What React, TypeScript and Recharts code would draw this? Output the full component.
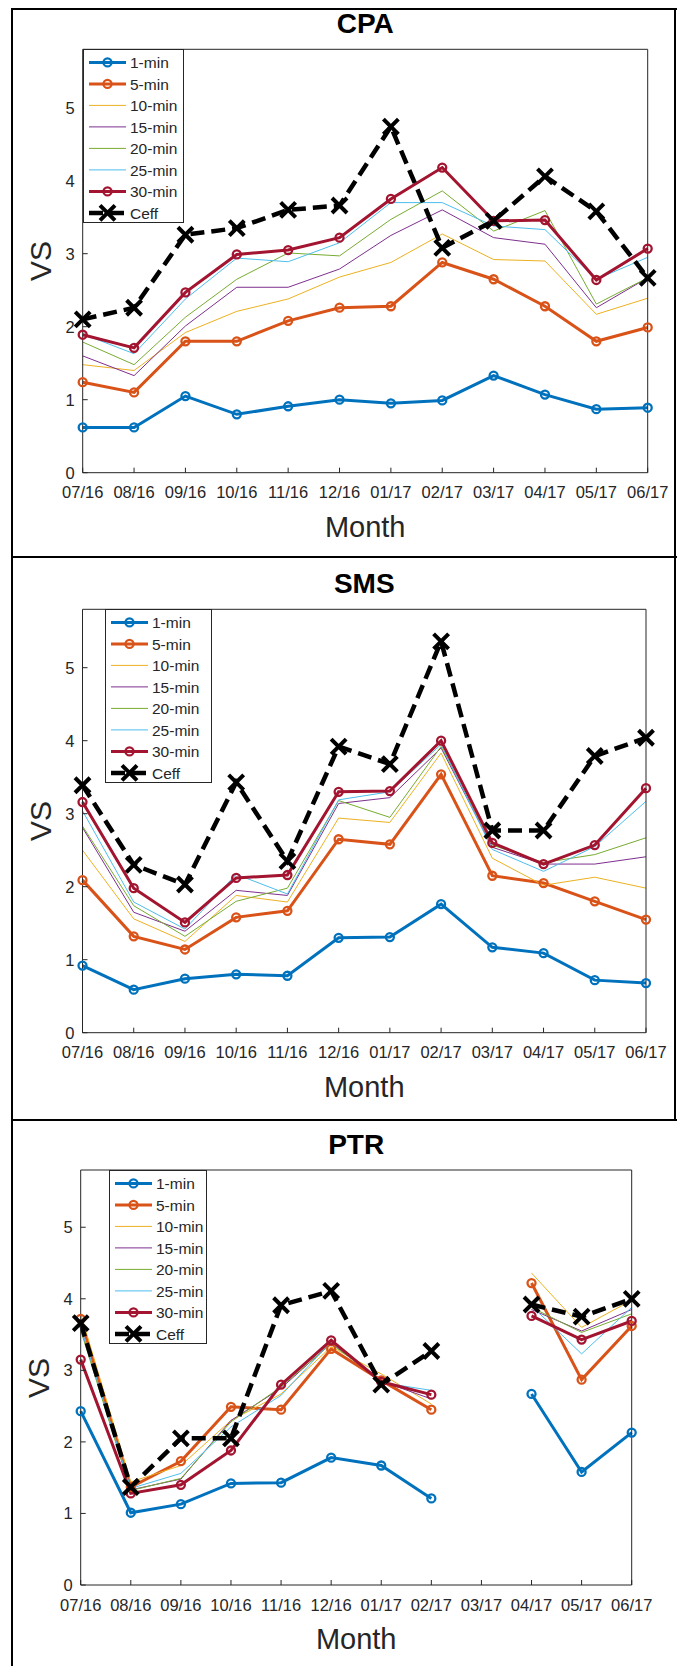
import React from "react";
import { LineChart, Line, XAxis, YAxis, Legend } from "recharts";

const MONTHS = ["07/16", "08/16", "09/16", "10/16", "11/16", "12/16", "01/17", "02/17", "03/17", "04/17", "05/17", "06/17"];
const Y_TICKS = [0, 1, 2, 3, 4, 5];

// CPA
const CPA_1 = [0.62, 0.62, 1.05, 0.8, 0.91, 1.0, 0.95, 0.99, 1.33, 1.07, 0.87, 0.89];
const CPA_5 = [1.24, 1.1, 1.8, 1.8, 2.08, 2.26, 2.28, 2.88, 2.65, 2.28, 1.8, 1.99];
const CPA_10 = [1.48, 1.4, 1.92, 2.21, 2.38, 2.68, 2.88, 3.27, 2.92, 2.9, 2.17, 2.39];
const CPA_15 = [1.6, 1.33, 2.01, 2.54, 2.54, 2.79, 3.25, 3.6, 3.22, 3.13, 2.26, 2.67];
const CPA_20 = [1.79, 1.48, 2.13, 2.65, 3.01, 2.97, 3.47, 3.86, 3.31, 3.59, 2.31, 2.67];
const CPA_25 = [1.9, 1.63, 2.38, 2.94, 2.89, 3.15, 3.7, 3.7, 3.38, 3.33, 2.65, 2.95];
const CPA_30 = [1.89, 1.71, 2.47, 2.99, 3.05, 3.22, 3.75, 4.18, 3.45, 3.46, 2.64, 3.07];
const CPA_CEFF = [2.1, 2.26, 3.26, 3.35, 3.6, 3.66, 4.74, 3.08, 3.45, 4.06, 3.58, 2.67];

// SMS
const SMS_1 = [0.92, 0.59, 0.74, 0.8, 0.78, 1.3, 1.31, 1.76, 1.17, 1.09, 0.72, 0.68];
const SMS_5 = [2.09, 1.32, 1.14, 1.58, 1.67, 2.65, 2.58, 3.54, 2.15, 2.05, 1.8, 1.55];
const SMS_10 = [2.5, 1.56, 1.25, 1.88, 1.79, 2.94, 2.88, 3.83, 2.39, 2.02, 2.13, 1.98];
const SMS_15 = [2.81, 1.65, 1.39, 1.95, 1.88, 3.14, 3.22, 3.9, 2.54, 2.31, 2.31, 2.41];
const SMS_20 = [2.83, 1.74, 1.32, 1.8, 1.98, 3.18, 2.95, 3.92, 2.57, 2.33, 2.44, 2.67];
const SMS_25 = [3.04, 1.79, 1.42, 2.17, 1.9, 3.19, 3.3, 3.95, 2.51, 2.21, 2.55, 3.17];
const SMS_30 = [3.16, 1.98, 1.51, 2.12, 2.16, 3.3, 3.31, 4.0, 2.6, 2.31, 2.57, 3.35];
const SMS_CEFF = [3.39, 2.3, 2.03, 3.43, 2.35, 3.92, 3.68, 5.36, 2.77, 2.77, 3.79, 4.04];

// PTR (no data for 03/17)
const PTR_1 = [2.43, 1.01, 1.13, 1.42, 1.43, 1.78, 1.67, 1.21, null, 2.67, 1.58, 2.13];
const PTR_5 = [3.72, 1.37, 1.73, 2.49, 2.45, 3.3, 2.86, 2.45, null, 4.22, 2.87, 3.62];
const PTR_10 = [3.79, 1.44, 1.67, 2.3, 2.67, 3.33, 2.95, 2.53, null, 4.36, 3.6, 3.98];
const PTR_15 = [3.6, 1.33, 1.48, 2.3, 2.75, 3.38, 2.85, 2.6, null, 3.85, 3.55, 3.85];
const PTR_20 = [3.56, 1.32, 1.49, 2.28, 2.77, 3.37, 2.85, 2.65, null, 3.88, 3.53, 3.79];
const PTR_25 = [3.6, 1.35, 1.56, 2.21, 2.65, 3.4, 2.83, 2.72, null, 3.9, 3.23, 3.88];
const PTR_30 = [3.15, 1.28, 1.4, 1.88, 2.8, 3.42, 2.84, 2.66, null, 3.76, 3.43, 3.69];
const PTR_CEFF = [3.66, 1.37, 2.05, 2.05, 3.91, 4.11, 2.8, 3.27, null, 3.92, 3.75, 4.0];

const SERIES = [
  { key: "m1", name: "1-min", color: "#0072BD", width: 3, marker: "o" },
  { key: "m5", name: "5-min", color: "#D95319", width: 3, marker: "o" },
  { key: "m10", name: "10-min", color: "#EDB120", width: 1, marker: "" },
  { key: "m15", name: "15-min", color: "#7E2F8E", width: 1, marker: "" },
  { key: "m20", name: "20-min", color: "#77AC30", width: 1, marker: "" },
  { key: "m25", name: "25-min", color: "#4DBEEE", width: 1, marker: "" },
  { key: "m30", name: "30-min", color: "#A2142F", width: 3, marker: "o" },
  { key: "ceff", name: "Ceff", color: "#000000", width: 4.5, marker: "x", dash: "14 7" },
];

const table = (cols: (number | null)[][]) =>
  MONTHS.map((m, i) => {
    const row: any = { m };
    SERIES.forEach((s, j) => (row[s.key] = cols[j][i]));
    return row;
  });

const PANELS = [
  {
    title: "CPA", top: 0, height: 556, left: 82.7, right: 647.7, plotTop: 49.3, zero: 472.7,
    legendLeft: 82.7, legendW: 101, vsX: 41,
    data: table([CPA_1, CPA_5, CPA_10, CPA_15, CPA_20, CPA_25, CPA_30, CPA_CEFF]),
  },
  {
    title: "SMS", top: 557, height: 560, left: 82.5, right: 646, plotTop: 52.3, zero: 475.7,
    legendLeft: 105, legendW: 107, vsX: 41,
    data: table([SMS_1, SMS_5, SMS_10, SMS_15, SMS_20, SMS_25, SMS_30, SMS_CEFF]),
  },
  {
    title: "PTR", top: 1120, height: 546, left: 80.7, right: 631.7, plotTop: 50, zero: 465,
    legendLeft: 109.3, legendW: 98, vsX: 39,
    data: table([PTR_1, PTR_5, PTR_10, PTR_15, PTR_20, PTR_25, PTR_30, PTR_CEFF]),
  },
];

const FONT = '"Liberation Sans", Arial, Helvetica, sans-serif';
const AX = "#262626";

const ring = (color: string) => (p: any) =>
  p.cx == null || p.cy == null ? (
    <g key={p.index} />
  ) : (
    <circle key={p.index} cx={p.cx} cy={p.cy} r={4} fill="none" stroke={color} strokeWidth={2.3} />
  );

const cross = (p: any) => {
  if (p.cx == null || p.cy == null) return <g key={p.index} />;
  const { cx, cy } = p;
  const d = 7.5;
  return (
    <path
      key={p.index}
      d={`M${cx - d},${cy - d}L${cx + d},${cy + d}M${cx - d},${cy + d}L${cx + d},${cy - d}`}
      stroke="#000"
      strokeWidth={4}
      fill="none"
    />
  );
};

function LegendBox({ width }: { width: number }) {
  const rowH = 21.5;
  const h = 174;
  return (
    <div style={{ width, height: h, border: `1px solid ${AX}`, background: "#fff", boxSizing: "border-box" }}>
      <svg width={width - 2} height={h - 2} style={{ display: "block" }}>
        {SERIES.map((s, i) => {
          const y = 12.4 + i * rowH;
          return (
            <g key={s.key}>
              <line x1={5} y1={y} x2={42} y2={y} stroke={s.color} strokeWidth={s.width} strokeDasharray={s.dash} />
              {s.marker === "o" && <circle cx={23.5} cy={y} r={4} fill="none" stroke={s.color} strokeWidth={2.3} />}
              {s.marker === "x" && (
                <path d={`M16,${y - 7.5}L31,${y + 7.5}M16,${y + 7.5}L31,${y - 7.5}`} stroke="#000" strokeWidth={4} />
              )}
              <text x={46} y={y + 5.6} fontSize={15.5} fill={AX} fontFamily={FONT}>
                {s.name}
              </text>
            </g>
          );
        })}
      </svg>
    </div>
  );
}

function Panel({ p }: { p: (typeof PANELS)[number] }) {
  const yW = 50;
  const xH = 40;
  const cx = (p.left + p.right) / 2;
  const midY = (p.plotTop + p.zero) / 2;
  return (
    <div style={{ position: "absolute", left: 0, top: p.top, width: 677, height: p.height }}>
      <LineChart
        width={677}
        height={p.height}
        data={p.data}
        margin={{ top: p.plotTop - 1, right: 677 - p.right - 1, left: p.left - yW, bottom: p.height - p.zero - xH }}
      >
        <XAxis
          dataKey="m"
          interval={0}
          height={xH}
          tickSize={-5}
          tickMargin={19}
          stroke={AX}
          tick={{ fontSize: 16.5, fill: AX, fontFamily: FONT }}
        />
        <XAxis dataKey="m" xAxisId="t" orientation="top" height={1} interval={0} tick={false} tickSize={-5} stroke={AX} />
        <YAxis
          domain={[0, 5.8]}
          ticks={Y_TICKS}
          width={yW}
          tickSize={-5}
          tickMargin={13}
          stroke={AX}
          allowDataOverflow
          tick={{ fontSize: 16.5, fill: AX, fontFamily: FONT }}
        />
        <YAxis
          yAxisId="r"
          orientation="right"
          domain={[0, 5.8]}
          ticks={Y_TICKS}
          width={1}
          tick={false}
          tickSize={-5}
          stroke={AX}
        />
        {SERIES.map((s) => (
          <Line
            key={s.key}
            type="linear"
            dataKey={s.key}
            name={s.name}
            stroke={s.color}
            strokeWidth={s.width}
            strokeDasharray={s.dash}
            dot={s.marker === "o" ? ring(s.color) : s.marker === "x" ? cross : false}
            activeDot={false}
            isAnimationActive={false}
          />
        ))}
        <Legend
          layout="vertical"
          align="center"
          verticalAlign="middle"
          content={() => <LegendBox width={p.legendW} />}
          wrapperStyle={{ left: p.legendLeft, top: p.plotTop, width: p.legendW, height: 174 }}
        />
      </LineChart>
      <div
        style={{
          position: "absolute", left: cx - 100, width: 200, top: p.plotTop - 25 - 14, height: 28,
          lineHeight: "28px", fontSize: 28, fontWeight: "bold", textAlign: "center", fontFamily: FONT, color: "#000",
        }}
      >
        {p.title}
      </div>
      <div
        style={{
          position: "absolute", left: cx - 100, width: 200, top: p.zero + 54 - 14, height: 28,
          lineHeight: "28px", fontSize: 29, textAlign: "center", fontFamily: FONT, color: AX,
        }}
      >
        Month
      </div>
      <div
        style={{
          position: "absolute", left: p.vsX - 40, top: midY - 14, width: 80, height: 28,
          lineHeight: "28px", fontSize: 30, textAlign: "center", fontFamily: FONT, color: AX,
          transform: "rotate(-90deg)",
        }}
      >
        VS
      </div>
    </div>
  );
}

const line = (l: number, t: number, w: number, h: number) => (
  <div style={{ position: "absolute", left: l, top: t, width: w, height: h, background: "#000" }} />
);

export default function App() {
  return (
    <div style={{ position: "absolute", left: 0, top: 0, width: 677, height: 1666, overflow: "hidden", background: "#fff" }}>
      {PANELS.map((p) => (
        <Panel key={p.title} p={p} />
      ))}
      {line(11, 8, 666, 2)}
      {line(11, 556, 666, 2)}
      {line(11, 1119, 666, 2)}
      {line(11, 8, 2, 1658)}
      {line(674, 8, 2, 1112)}
    </div>
  );
}
